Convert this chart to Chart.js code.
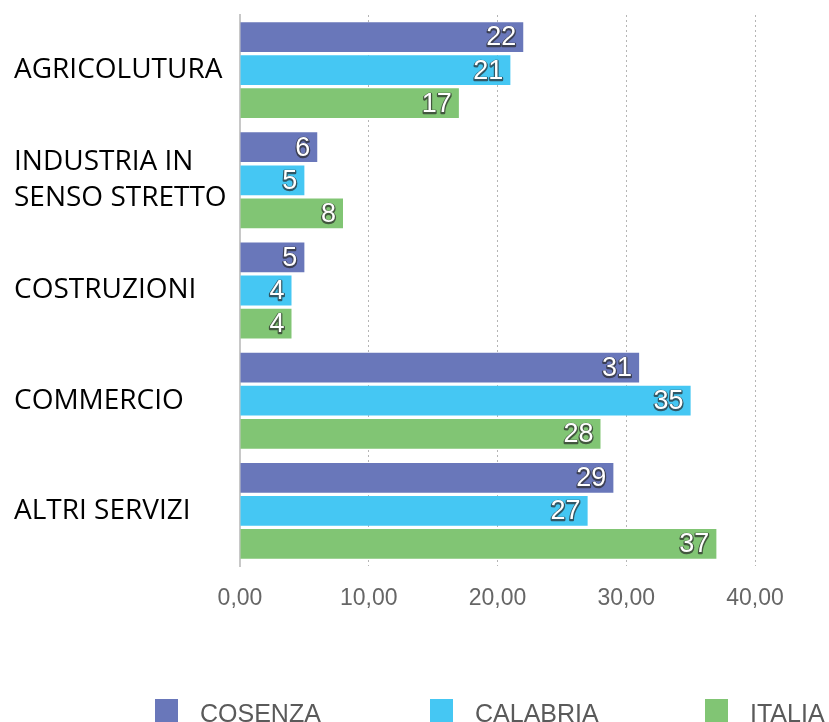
<!DOCTYPE html>
<html><head><meta charset="utf-8">
<script src="https://cdn.jsdelivr.net/npm/chart.js@4"></script>
<style>html,body{margin:0;padding:0;background:#fff}#w{width:829px;height:722px;position:relative}</style>
</head><body><div id="w"><canvas id="c"></canvas></div>
<script>
const categories = [["AGRICOLUTURA"], ["INDUSTRIA IN", "SENSO STRETTO"], ["COSTRUZIONI"], ["COMMERCIO"], ["ALTRI SERVIZI"]];
const seriesNames = ["COSENZA", "CALABRIA", "ITALIA"];
const cosenza = [22, 6, 5, 31, 29];
const calabria = [21, 5, 4, 35, 27];
const italia = [17, 8, 4, 28, 37];
const xTicks = [0, 10, 20, 30, 40];
const colors = ['#6977ba', '#45c7f3', '#81c574'];

const valueLabels = {
  id: 'valueLabels',
  afterDatasetsDraw(chart) {
    const ctx = chart.ctx;
    ctx.save();
    ctx.font = '27px "Liberation Sans", Arial, sans-serif';
    ctx.textAlign = 'right';
    ctx.textBaseline = 'middle';
    chart.data.datasets.forEach((ds, di) => {
      const meta = chart.getDatasetMeta(di);
      meta.data.forEach((el, i) => {
        const txt = String(ds.data[i]);
        const x = el.x - 7, y = el.y + 1;
        ctx.lineJoin = 'round';
        ctx.strokeStyle = 'rgba(40,40,40,0.7)';
        ctx.lineWidth = 2.5;
        ctx.strokeText(txt, x, y + 1);
        ctx.fillStyle = '#ffffff';
        ctx.fillText(txt, x, y);
      });
    });
    ctx.restore();
  }
};

const customLegend = {
  id: 'customLegend',
  afterDraw(chart) {
    const ctx = chart.ctx;
    ctx.save();
    ctx.font = '25px "Liberation Sans", Arial, sans-serif';
    ctx.textAlign = 'left';
    ctx.textBaseline = 'alphabetic';
    chart.data.datasets.forEach((ds, i) => {
      const x = 155 + i * 275;
      ctx.fillStyle = ds.backgroundColor;
      ctx.fillRect(x, 699, 23, 23);
      ctx.fillStyle = '#5a5a5a';
      ctx.fillText(ds.label, x + 45, 722);
    });
    ctx.restore();
  }
};

new Chart(document.getElementById('c'), {
  type: 'bar',
  data: {
    labels: categories,
    datasets: [
      { label: seriesNames[0], data: cosenza, backgroundColor: colors[0] },
      { label: seriesNames[1], data: calabria, backgroundColor: colors[1] },
      { label: seriesNames[2], data: italia, backgroundColor: colors[2] }
    ]
  },
  options: {
    indexAxis: 'y',
    responsive: true,
    maintainAspectRatio: false,
    animation: false,
    categoryPercentage: 0.9,
    barPercentage: 0.9,
    layout: { padding: { left: 14, right: 74, top: 15, bottom: 0 } },
    plugins: { legend: { display: false }, tooltip: { enabled: false } },
    scales: {
      x: {
        min: 0, max: 40,
        afterFit(s) { s.height = 156; s.paddingLeft = 0; s.paddingRight = 0; },
        afterBuildTicks(s) { s.ticks = xTicks.map(v => ({ value: v })); },
        ticks: {
          padding: 19,
          color: '#666',
          font: { family: '"Liberation Sans", Arial, sans-serif', size: 23 },
          callback: v => Number(v).toFixed(2).replace('.', ',')
        },
        grid: { color: '#b5b5b5', lineWidth: 1, drawTicks: false },
        border: { display: false, dash: [2, 3] }
      },
      y: {
        afterFit(s) { s.width = 226; s.paddingTop = 0; s.paddingBottom = 0; },
        ticks: {
          crossAlign: 'far',
          color: '#000',
          font: { family: '"Open Sans", sans-serif', size: 28, lineHeight: 1.3 }
        },
        grid: { display: false },
        border: { display: true, color: '#c8c8c8', width: 2 }
      }
    }
  },
  plugins: [valueLabels, customLegend]
});
</script>
</body></html>
